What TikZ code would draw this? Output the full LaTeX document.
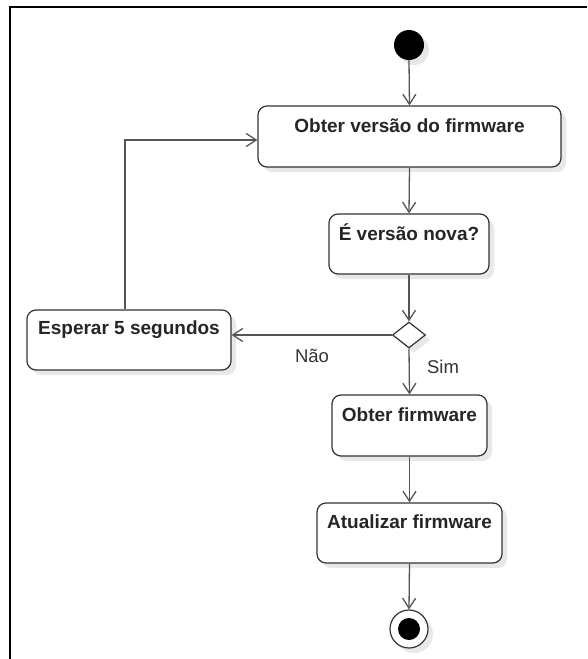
\documentclass[tikz,border=0pt]{standalone}
\usepackage{fontspec}
\setmainfont{Liberation Sans}
\usetikzlibrary{arrows.meta,shapes.geometric,shadows,calc}
\definecolor{linegray}{HTML}{555555}
\definecolor{boxgray}{HTML}{333333}
\begin{document}
\begin{tikzpicture}[x=1pt,y=-1pt,
  shad/.style={drop shadow={shadow xshift=5pt,shadow yshift=-5pt,fill=black!9,opacity=1}},
  actbox/.style={draw=boxgray,line width=1.2pt,rounded corners=9pt,fill=white,shad,inner sep=0pt},
  boxtext/.style={font=\fontsize{19}{22}\selectfont\bfseries,text=black!85,anchor=base,inner sep=0pt},
  lbl/.style={font=\fontsize{18.5}{22}\selectfont,text=black!80,inner sep=0pt},
  flow/.style={draw=linegray,line width=1.3pt,-{Straight Barb[length=10pt,width=13pt,line width=1.3pt]}},
  frameline/.style={draw=black,line width=2.4pt}
]
\useasboundingbox (0,0) rectangle (587,659);
\draw[frameline] (10,659) -- (10,7) -- (587,7);

% start node
\node[circle,fill=black,minimum size=30pt,inner sep=0pt,shad] (start) at (409,45) {};

% activity boxes
\node[actbox,minimum width=303pt,minimum height=61pt] (b1) at (409.5,136.5) {};
\node[boxtext] (t1) at ([yshift=-27pt]b1.north) {Obter versão do firmware};

\node[actbox,minimum width=160pt,minimum height=60pt] (b2) at (409,244) {};
\node[boxtext] (t2) at ([yshift=-27pt]b2.north) {É versão nova?};

\node[diamond,draw=boxgray,line width=1.2pt,fill=white,shad,minimum width=33pt,minimum height=26pt,inner sep=0pt] (d) at (409,335) {};

\node[actbox,minimum width=204pt,minimum height=60pt] (e) at (129,340) {};
\node[boxtext] (t3) at ([yshift=-25pt]e.north) {Esperar 5 segundos};

\node[actbox,minimum width=155pt,minimum height=61pt] (b3) at (409.5,425.5) {};
\node[boxtext] (t4) at ([yshift=-27pt]b3.north) {Obter firmware};

\node[actbox,minimum width=185pt,minimum height=60pt] (b4) at (409.5,533) {};
\node[boxtext] (t5) at ([yshift=-26pt]b4.north) {Atualizar firmware};

% end node
\node[circle,draw=boxgray,line width=1.2pt,fill=white,minimum size=38pt,inner sep=0pt,shad] (endo) at (409,629) {};
\node[circle,fill=black,minimum size=22pt,inner sep=0pt] (endi) at (endo.center) {};

% connectors
\draw[flow] (start.south) -- (b1.north);
\draw[flow] (b1.south) -- (b2.north);
\draw[flow] (b2.south) -- (d.north);
\draw[flow] (d.west) -- (d.west -| e.east);
\draw[flow] (d.south) -- (b3.north);
\draw[flow] (b3.south) -- (b4.north);
\draw[flow] (b4.south) -- (endo.north);
\draw[flow] ([xshift=-4pt]e.north) |- ([yshift=-3.5pt]b1.west);

% labels
\node[lbl] (nao) at (312,356) {Não};
\node[lbl] (sim) at (443,367) {Sim};
\end{tikzpicture}
\end{document}
